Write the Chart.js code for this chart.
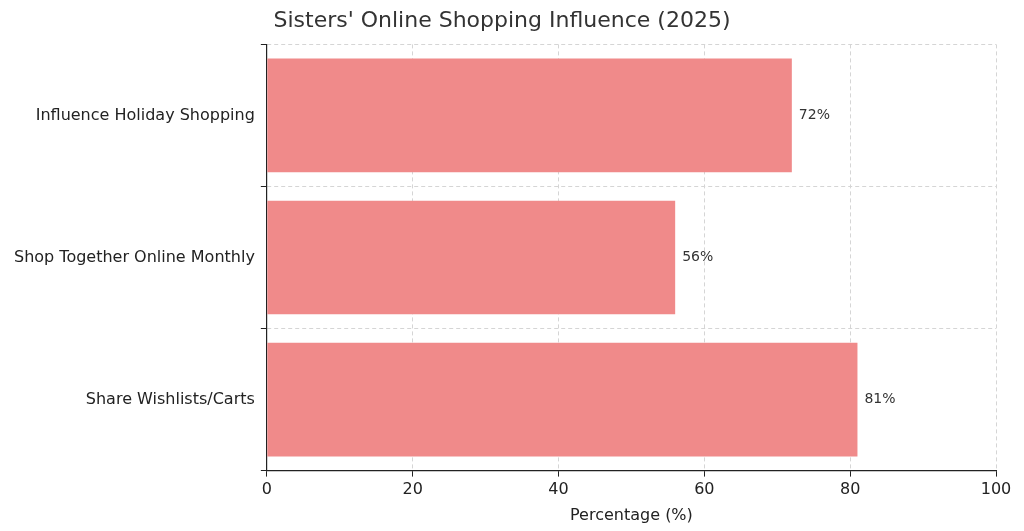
<!DOCTYPE html>
<html>
<head>
<meta charset="utf-8">
<script src="https://cdn.jsdelivr.net/npm/chart.js@4"></script>
<style>
  html, body { margin: 0; padding: 0; background: #fff; }
  #wrap { width: 1024px; height: 531px; }
</style>
</head>
<body>
<div id="wrap"><canvas id="chart"></canvas></div>
<script>
const categories = ['Influence Holiday Shopping', 'Shop Together Online Monthly', 'Share Wishlists/Carts'];
const percentages = [72, 56, 81];
const xTicks = [0, 20, 40, 60, 80, 100];

// Prozentwerte rechts neben die Balken schreiben
const valueLabels = {
    id: 'valueLabels',
    afterDatasetsDraw(chart) {
        const ctx = chart.ctx;
        const meta = chart.getDatasetMeta(0);
        ctx.save();
        ctx.font = '14px "DejaVu Sans"';
        ctx.fillStyle = '#333';
        ctx.textBaseline = 'middle';
        meta.data.forEach((bar, i) => {
            ctx.fillText(percentages[i] + '%', bar.x + 7, bar.y);
        });
        ctx.restore();
    }
};

new Chart(document.getElementById('chart'), {
    type: 'bar',
    data: {
        labels: categories,
        datasets: [{
            data: percentages,
            backgroundColor: '#F08A8A',
            borderWidth: 0,
            categoryPercentage: 1,
            barPercentage: 0.8
        }]
    },
    plugins: [valueLabels],
    options: {
        indexAxis: 'y',
        responsive: true,
        maintainAspectRatio: false,
        animation: false,
        layout: { padding: { top: 4, right: 28, left: 8, bottom: 2 } },
        plugins: {
            legend: { display: false },
            tooltip: { enabled: false },
            title: {
                display: true,
                text: "Sisters' Online Shopping Influence (2025)",
                color: '#333',
                font: { family: 'DejaVu Sans', size: 22, weight: 'normal' },
                padding: { top: 4, bottom: 10 }
            }
        },
        scales: {
            x: {
                min: 0,
                max: 100,
                afterBuildTicks: (axis) => { axis.ticks = xTicks.map(v => ({ value: v })); },
                ticks: { color: '#222', font: { family: 'DejaVu Sans', size: 16 }, padding: 4 },
                grid: {
                    color: '#d5d5d5',
                    tickColor: '#222',
                    tickLength: 6,
                    drawOnChartArea: true
                },
                border: { display: true, color: '#222', width: 1.2, dash: [4, 3] },
                title: {
                    display: true,
                    text: 'Percentage (%)',
                    color: '#222',
                    font: { family: 'DejaVu Sans', size: 16 },
                    padding: { top: 2 }
                }
            },
            y: {
                offset: true,
                ticks: { color: '#222', font: { family: 'DejaVu Sans', size: 16 }, padding: 6 },
                grid: { color: '#d5d5d5', tickColor: '#222', tickLength: 6 },
                border: { display: true, color: '#222', width: 1.2, dash: [4, 3] }
            }
        }
    }
});
</script>
</body>
</html>
